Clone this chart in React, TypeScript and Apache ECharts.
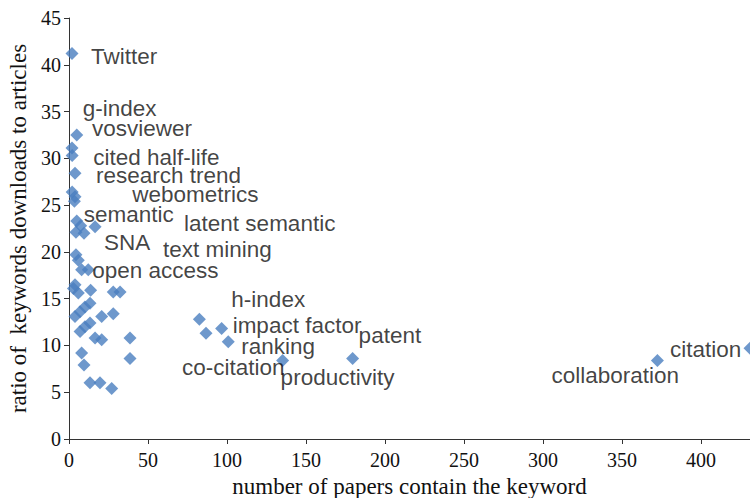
import React, { useEffect, useRef } from "react";
import * as echarts from "echarts";

// ---- Data ----
const keywords: string[] = [
  "Twitter", "g-index", "vosviewer", "cited half-life", "research trend",
  "webometrics", "semantic", "latent semantic", "SNA", "text mining",
  "open access", "h-index", "impact factor", "ranking", "co-citation",
  "productivity", "patent", "collaboration", "citation",
  "", "", "", "", "", "", "", "", "", "", "", "", "", "", "", "", "", "",
  "", "", "", "", "", "", "", "", "", "", "", "",
];
const papers: number[] = [
  1.9, 4.9, 1.9, 2.0, 3.8, 2.0, 4.9, 16.5, 9.5, 4.4,
  12.2, 82.5, 96.6, 100.8, 86.7, 135.2, 179.5, 372.4, 431,
  3.8, 3.4, 7.4, 4.4, 5.9, 8.0, 3.8, 5.9, 13.7, 28.0, 32.3,
  3.8, 7.0, 10.1, 13.3, 7.0, 10.1, 13.3, 20.7, 28.0,
  16.5, 20.7, 38.6, 8.0, 9.5, 38.6, 13.3, 19.6, 27.0, 2.8,
];
const ratios: number[] = [
  41.2, 32.5, 31.1, 30.3, 28.4, 26.4, 23.3, 22.7, 22.0, 19.7,
  18.1, 12.8, 11.8, 10.4, 11.3, 8.4, 8.6, 8.4, 9.7,
  25.9, 25.4, 22.8, 22.1, 19.1, 18.1, 16.5, 15.6, 15.9, 15.7, 15.7,
  13.1, 13.6, 14.1, 14.5, 11.5, 12.0, 12.4, 13.1, 13.4,
  10.8, 10.6, 10.8, 9.2, 7.9, 8.6, 6.0, 6.0, 5.4, 16.1,
];
const xTitle = "number of papers contain the keyword";
const yTitle = "ratio of  keywords downloads to articles";

// ---- Label placement (style only) ----
const labelOffsets: Record<string, [number, number]> = {
  "Twitter": [19, 3],
  "g-index": [6, -26],
  "vosviewer": [20, -20],
  "cited half-life": [21, 2],
  "research trend": [21, 2],
  "webometrics": [60, 2],
  "semantic": [7, -7],
  "latent semantic": [89, -3],
  "SNA": [20, 9],
  "text mining": [87, -5],
  "open access": [4, 1],
  "h-index": [32, -20],
  "impact factor": [11, -3],
  "ranking": [13, 5],
  "co-citation": [-24, 34],
  "productivity": [-2, 17],
  "patent": [6, -23],
  "collaboration": [-106, 15],
  "citation": [-80, 1],
};

export default function App() {
  const ref = useRef<HTMLDivElement>(null);
  useEffect(() => {
    if (!ref.current) return;
    const chart = echarts.init(ref.current, undefined, { renderer: "svg" });
    const sans = "'Liberation Sans', Arial, sans-serif";
    const data = papers.map((x, i) => {
      const name = keywords[i] || "";
      const off = labelOffsets[name];
      return {
        name,
        value: [x, ratios[i]],
        label: off
          ? {
              show: true,
              formatter: name,
              position: "inside",
              align: "left",
              verticalAlign: "middle",
              offset: off,
              color: "#111",
              fontFamily: sans,
              fontSize: 22.5,
            }
          : { show: false },
      };
    });
    const axisColor = "#333";
    const serif = "'Liberation Serif', 'Times New Roman', serif";
    chart.setOption({
      animation: false,
      grid: {
        left: 69,
        right: 0,
        top: 18,
        bottom: 59,
        containLabel: false,
        outerBoundsMode: "none",
      },
      xAxis: {
        type: "value",
        min: 0,
        max: 431,
        interval: 50,
        name: xTitle,
        nameLocation: "middle",
        nameGap: 32,
        nameTextStyle: { fontFamily: serif, fontSize: 23, color: "#111" },
        axisLine: { show: true, lineStyle: { color: axisColor, width: 1 } },
        axisTick: { show: true, inside: false, length: 5, lineStyle: { color: axisColor } },
        axisLabel: {
          fontFamily: serif,
          fontSize: 20,
          color: "#111",
          margin: 11,
          showMaxLabel: false,
          formatter: (v: number) => (v % 50 === 0 ? String(v) : ""),
        },
        splitLine: { show: false },
      },
      yAxis: {
        type: "value",
        min: 0,
        max: 45,
        interval: 5,
        name: yTitle,
        nameLocation: "middle",
        nameGap: 39,
        nameTextStyle: { fontFamily: serif, fontSize: 23, color: "#111" },
        axisLine: { show: true, lineStyle: { color: axisColor, width: 1 } },
        axisTick: { show: true, inside: false, length: 5, lineStyle: { color: axisColor } },
        axisLabel: { fontFamily: serif, fontSize: 20, color: "#111", margin: 8 },
        splitLine: { show: false },
      },
      series: [
        {
          type: "scatter",
          symbol: "diamond",
          symbolSize: 13,
          clip: false,
          itemStyle: { color: "#4a7ebf" },
          data,
        },
      ],
    });
    return () => chart.dispose();
  }, []);
  return (
    <div
      ref={ref}
      style={{ position: "absolute", left: 0, top: 0, width: 750, height: 498 }}
    />
  );
}
